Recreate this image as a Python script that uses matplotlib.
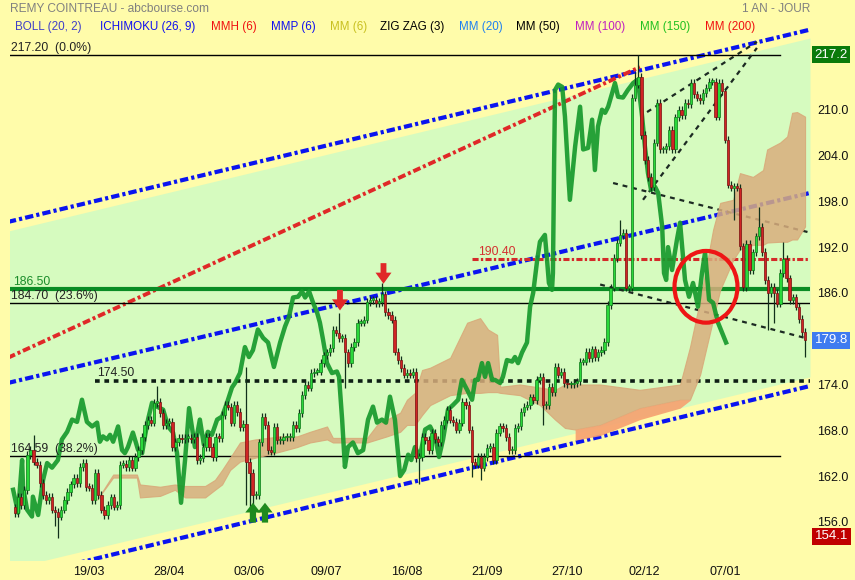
import numpy as np
import matplotlib
matplotlib.use("Agg")
import matplotlib.pyplot as plt
from matplotlib.patches import Ellipse

plt.rcParams['font.family'] = ['Liberation Sans', 'DejaVu Sans']

# daily closes, one per session (index 0 = first session of the year shown)
first_open = 157.9
closes = [
    157.2, 159.3, 158.2, 160.2, 164.8, 165.4, 163.9, 163.5, 161.1, 159.5,
    158.9, 159.3, 157.6, 157.3, 156.7, 157.6, 158.9, 159.9, 160.9, 161.8,
    161.1, 163.2, 163.7, 160.6, 160.5, 158.9, 162.4, 159.5, 157.6, 156.9,
    158.2, 159.2, 158.0, 158.2, 163.5, 163.6, 163.2, 164.1, 163.1, 164.5,
    165.4, 167.1, 168.7, 169.4, 169.0, 171.6, 171.7, 170.3, 168.7, 169.0,
    169.1, 165.8, 166.5, 167.0, 166.8, 167.0, 167.0, 166.8, 167.1, 164.1,
    164.4, 165.8, 167.1, 165.8, 164.5, 167.1, 167.0, 170.0, 171.3, 171.1,
    169.0, 171.3, 170.4, 168.4, 168.8, 163.9, 162.4, 159.5, 159.5, 166.4,
    169.8, 168.7, 165.4, 165.2, 168.4, 166.7, 166.7, 167.1, 167.1, 167.1,
    168.7, 168.3, 170.3, 172.6, 173.9, 173.6, 175.5, 175.7, 175.7, 176.8,
    177.8, 178.2, 178.8, 181.2, 180.8, 180.1, 180.1, 178.2, 176.8, 178.9,
    179.6, 182.1, 182.1, 182.5, 184.8, 185.1, 185.1, 184.7, 184.8, 185.8,
    183.5, 183.1, 182.5, 178.3, 177.2, 176.2, 175.3, 175.5, 175.3, 175.7,
    164.4, 164.5, 167.1, 166.7, 165.4, 167.7, 166.8, 166.5, 168.7, 169.4,
    170.7, 169.4, 169.1, 168.1, 169.0, 171.7, 171.3, 168.1, 163.9, 163.5,
    164.5, 163.1, 164.5, 165.7, 165.8, 164.1, 167.7, 168.5, 168.3, 167.1,
    165.4, 165.4, 168.3, 168.5, 170.4, 171.1, 171.3, 172.3, 172.0, 174.6,
    175.0, 171.3, 171.3, 173.7, 173.0, 176.3, 175.3, 175.7, 174.2, 174.0,
    174.0, 174.2, 174.4, 177.0, 177.0, 178.3, 177.5, 178.6, 177.6, 178.2,
    178.5, 179.6, 184.4, 186.7, 190.6, 192.6, 193.6, 193.9, 186.7, 186.7,
    211.6, 213.3, 214.3, 206.7, 203.4, 201.2, 199.9, 205.7, 210.9, 204.8,
    204.8, 205.2, 207.4, 204.8, 209.0, 210.0, 209.3, 210.9, 210.7, 213.5,
    212.0, 211.6, 211.3, 212.2, 212.9, 213.7, 213.7, 209.1, 213.5, 212.4,
    206.1, 200.2, 199.8, 199.9, 199.8, 192.1, 186.8, 192.4, 189.0, 191.3,
    193.4, 194.7, 191.4, 187.7, 186.0, 186.8, 186.0, 184.6, 188.6, 190.5,
    187.9, 185.1, 185.4, 184.2, 182.6, 180.9, 179.8,
]
# long shadows
wick_low = {13: 155.5, 14: 153.9, 75: 158.2, 76: 157.5, 77: 157.0, 107: 173.6,
            131: 160.9, 148: 161.9, 151: 161.5, 171: 168.7, 233: 195.6,
            244: 181.2, 246: 182.0, 256: 177.6}
wick_high = {6: 167.4, 46: 173.8, 75: 176.3, 105: 183.4, 119: 187.3,
             196: 195.6, 201: 215.0, 202: 217.2, 241: 197.3, 249: 192.7}

# thick green indicator line (session index, price)
osc_idx = [-0.6, 1.0, 2.3, 2.6, 3.9, 5.5, 5.8, 7.5, 9.1, 10.4, 12.0, 13.9, 15.2, 16.9,
           18.5, 20.1, 21.7, 23.3, 25.0, 26.6, 27.5, 28.5, 29.8, 30.8, 31.8, 33.4,
           34.7, 35.6, 36.6, 38.2, 39.9, 41.2, 42.1, 43.1, 44.4, 46.0, 48.0, 49.6,
           51.2, 52.5, 53.8, 55.1, 56.4, 58.3, 59.9, 61.2, 62.5, 63.8, 65.5, 67.1,
           68.7, 70.3, 71.3, 72.9, 74.5, 75.8, 77.1, 78.7, 80.4, 82.0, 83.9, 85.9,
           87.5, 88.8, 90.1, 91.7, 93.0, 94.0, 95.3, 96.6, 97.9, 98.8, 99.8, 101.1,
           102.7, 104.3, 105.0, 106.0, 106.9, 107.9, 109.5, 111.1, 112.8, 114.4,
           116.0, 117.3, 118.9, 120.2, 121.5, 123.1, 124.8, 126.1, 127.4, 128.4,
           129.6, 131.2, 132.9, 134.5, 136.1, 137.4, 138.7, 140.3, 141.9, 143.6,
           144.8, 146.5, 148.1, 149.1, 150.0, 151.3, 152.3, 153.3, 154.6, 155.5,
           157.2, 158.1, 159.4, 161.1, 162.0, 163.0, 164.3, 165.9, 166.9, 167.9,
           169.2, 170.1, 171.7, 172.4, 173.0, 174.0, 174.3, 174.7, 175.0, 176.0,
           177.3, 178.2, 179.2, 179.8, 181.5, 183.1, 184.1, 185.7, 187.0, 187.9,
           188.9, 190.2, 191.2, 192.2, 193.5, 194.4, 195.4, 197.0, 198.6, 200.3,
           201.6, 202.2, 203.2, 204.1, 205.1, 206.1, 207.4, 208.4, 209.7, 210.3,
           211.0, 211.6, 212.9, 214.5, 215.5, 217.1, 218.4, 219.7, 221.3, 222.6,
           223.6, 224.9, 226.2, 227.8, 230.4]
osc_val = [160.2, 157.2, 164.1, 160.6, 157.6, 156.7, 159.3, 156.9, 161.5, 163.7, 163.1,
           164.1, 166.8, 167.8, 169.4, 169.1, 172.0, 169.1, 168.5, 169.0, 166.5, 167.2,
           166.8, 167.4, 166.5, 168.5, 165.4, 165.0, 165.8, 167.7, 165.4, 165.0, 167.2,
           169.4, 171.6, 171.1, 170.7, 168.5, 167.7, 165.0, 158.5, 164.1, 170.9, 165.8,
           169.4, 166.1, 167.8, 167.4, 169.4, 169.8, 171.6, 173.6, 174.2, 175.5, 178.9,
           177.6, 178.5, 181.2, 180.1, 179.5, 176.3, 179.5, 181.6, 182.9, 185.4, 185.5,
           186.2, 185.4, 186.2, 184.7, 183.4, 182.1, 179.9, 176.8, 175.5, 175.7, 175.0,
           169.4, 163.2, 165.8, 166.4, 165.0, 165.4, 169.4, 171.1, 169.0, 169.4, 169.0,
           172.4, 169.4, 162.0, 162.8, 164.8, 164.1, 165.8, 164.5, 168.1, 168.5, 167.2,
           164.5, 166.8, 170.7, 171.3, 172.0, 174.6, 173.3, 172.0, 174.6, 174.6, 176.8,
           175.0, 176.8, 174.6, 174.6, 174.2, 175.0, 177.2, 177.0, 177.6, 176.8, 178.2,
           179.5, 184.2, 186.0, 190.3, 192.7, 193.6, 190.3, 187.3, 186.4, 188.6, 203.5,
           212.6, 213.3, 213.0, 209.1, 202.1, 198.2, 205.2, 210.4, 204.8, 205.0, 208.7,
           202.1, 207.8, 210.0, 209.6, 210.4, 212.2, 213.5, 211.7, 211.6, 212.6, 213.5,
           213.9, 212.6, 209.1, 205.2, 201.7, 199.5, 199.9, 199.1, 194.7, 188.6, 187.7,
           192.0, 189.0, 193.0, 195.2, 187.7, 185.5, 187.3, 184.2, 188.6, 191.3, 185.1,
           184.7, 182.1, 179.5]

# ichimoku cloud (session index, upper edge, lower edge)
cloud_idx = [26.6, 31.8, 39.5, 40.5, 47.0, 51.8, 55.1, 61.6, 64.8, 67.1, 69.7, 72.9,
             77.8, 85.9, 91.4, 95.6, 101.1, 103.0, 114.1, 117.3, 120.5, 124.8, 127.0,
             129.6, 131.9, 134.5, 141.0, 146.5, 150.7, 153.3, 156.2, 157.2, 163.6,
             170.1, 175.0, 178.2, 181.5, 189.6, 202.5, 215.5, 218.7, 222.0, 226.2,
             228.5, 232.7, 234.9, 239.1, 242.4, 243.7, 247.9, 250.2, 251.8, 253.4, 256.0]
cloud_top = [158.9, 162.2, 162.2, 160.9, 160.6, 160.9, 160.7, 160.7, 161.5, 162.8, 164.4,
             166.4, 166.8, 167.2, 167.2, 167.8, 168.5, 167.0, 167.0, 168.7, 169.4, 170.3,
             172.0, 172.9, 175.9, 176.2, 177.5, 182.1, 182.7, 181.2, 180.5, 173.7, 174.0,
             173.6, 173.3, 174.0, 174.0, 174.0, 173.3, 174.0, 178.9, 185.1, 194.3, 197.8,
             198.2, 201.7, 201.2, 202.1, 204.8, 205.7, 206.5, 209.6, 209.7, 209.1]
cloud_bot = [158.9, 161.8, 161.8, 159.2, 159.4, 160.2, 159.2, 159.2, 160.2, 160.9, 162.8,
             163.9, 164.4, 165.2, 165.8, 166.4, 166.8, 166.4, 166.4, 166.8, 167.2, 167.8,
             168.7, 168.7, 170.0, 171.3, 172.6, 172.9, 172.9, 173.0, 173.0, 172.9, 172.6,
             171.3, 169.4, 168.3, 168.1, 168.7, 170.9, 172.0, 172.0, 175.3, 182.5, 186.4,
             190.3, 191.7, 192.3, 192.3, 192.6, 192.7, 192.7, 193.0, 193.0, 194.7]
warm_idx = [181.5, 189.6, 202.5, 215.5, 218.7]
warm_top = [168.1, 168.7, 170.9, 172.0, 172.0]
warm_bot = [166.7, 167.3, 169.4, 170.9, 171.9]

# drawn objects (session index, price)
chan_up = ([-2.3, 257.6], [195.3, 220.5])
chan_mid = ([-2.3, 257.6], [174.2, 199.1])
chan_low = ([-2.3, 257.6], [148.4, 173.8])
band_top = ([-2.3, 257.6], [194.1, 219.4])
band_bot = ([-2.3, 257.6], [149.8, 175.0])
red_trend = ([-2.3, 202.5], [177.5, 215.6])
zz_lines = [([204.8, 240.4], [209.7, 218.9]),
            ([203.5, 240.4], [198.2, 218.1]),
            ([193.8, 257.6], [200.4, 193.9]),
            ([189.6, 256.0], [187.1, 180.1])]
down_arrows = [(105.3, 183.7, 186.4), (119.4, 187.2, 189.9)]
up_arrows = [(77.1, 158.5, 155.9), (81.0, 158.5, 155.9)]
circle = (223.9, 186.8, 20.4, 9.4)

date_idx = [24, 50, 76, 101, 127, 153, 179, 204, 230]
date_lbl = ["19/03", "28/04", "03/06", "09/07", "16/08", "21/09", "27/10", "02/12", "07/01"]
price_ticks = [156, 162, 168, 174, 186, 192, 198, 204, 210]

YELLOW = '#FFFCAA'
fig = plt.figure(figsize=(8.55, 5.8), dpi=100, facecolor=YELLOW)
ax = fig.add_axes([10 / 855, 20 / 580, 800 / 855, 538 / 580])
ax.set_facecolor('none')
ax.set_xlim(-1.62, 257.6)
ax.set_ylim(151.0, 221.5)
for s in ax.spines.values():
    s.set_visible(False)

# light green channel
gx = np.linspace(-2.3, 257.6, 50)
ax.fill_between(gx, np.interp(gx, *band_bot), np.interp(gx, *band_top),
                color='#D6FBBF', lw=0, zorder=0)

dashdot = (0, (2.0, 0.75, 0.75, 0.75))
for ln in (chan_up, chan_mid, chan_low):
    ax.plot(*ln, color='#0A14F0', lw=3, ls=dashdot, zorder=2)
ax.plot(*red_trend, color='#E02828', lw=2.8, ls=dashdot, zorder=2)

# horizontal levels
ax.plot([-2, 248], [217.2, 217.2], color='black', lw=1, zorder=2)
ax.plot([-2, 258], [184.7, 184.7], color='black', lw=1, zorder=2)
ax.plot([-2, 248], [164.59, 164.59], color='black', lw=1, zorder=2)
ax.plot([25.9, 258], [174.5, 174.5], color='#0E1E14', lw=2.6, ls=(0, (1.3, 1.3)), zorder=2)
ax.plot([148.1, 258], [190.4, 190.4], color='#D42A2A', lw=2.2, ls=dashdot, zorder=2)
ax.plot([-2, 258], [186.5, 186.5], color='#0A8C24', lw=3, zorder=2)

tkw = dict(fontsize=8.8, va='bottom', ha='left', zorder=6)
ax.text(-1.3, 217.35, "217.20  (0.0%)", color='#222222', **tkw)
ax.text(-0.6, 186.7, "186.50", color='#1A8C2A', **tkw)
ax.text(-1.3, 184.85, "184.70  (23.6%)", color='#222222', **tkw)
ax.text(26.5, 174.75, "174.50", color='#222222', **tkw)
ax.text(-1.3, 164.75, "164.59  (38.2%)", color='#222222', **tkw)
ax.text(150.0, 190.6, "190.40", color='#D43030', **tkw)

for xs, ys in zz_lines:
    ax.plot(xs, ys, color='#1C2A22', lw=1.6, ls=(0, (2.2, 2.2)), zorder=2)

# ichimoku cloud
ax.fill_between(cloud_idx, cloud_bot, cloud_top, color='#D9AE7E', alpha=0.85, lw=0.8,
                edgecolor='#D8A878', zorder=3)
ax.fill_between(warm_idx, warm_bot, warm_top, color='#F7A070', alpha=0.9, lw=0, zorder=3)

# green indicator line
ax.plot(osc_idx, osc_val, color='#179A2C', lw=3.2, alpha=0.92,
        solid_joinstyle='round', zorder=4)

# candles
c = np.array(closes)
o = np.r_[first_open, c[:-1]]
x = np.arange(len(c))
lo = np.minimum(o, c) - 0.5
hi = np.maximum(o, c) + 0.5
for k, v in wick_low.items():
    lo[k] = v
for k, v in wick_high.items():
    hi[k] = v
up = c >= o
ax.vlines(x, lo, hi, color='#10301A', lw=0.9, zorder=5)
body_h = np.maximum(np.abs(c - o), 0.2)
ax.bar(x[up], body_h[up], bottom=np.minimum(o, c)[up], width=0.75,
       color='#2AD83A', edgecolor='#0E7A1A', lw=0.5, zorder=6)
ax.bar(x[~up], body_h[~up], bottom=np.minimum(o, c)[~up], width=0.75,
       color='#D02424', edgecolor='#7A1010', lw=0.5, zorder=6)

# signal arrows and circle
for xi, tip, tail in down_arrows:
    ax.annotate("", xy=(xi, tip), xytext=(xi, tail), zorder=7,
                arrowprops=dict(arrowstyle="simple,head_length=0.8,head_width=1.15,tail_width=0.42",
                                color='#E02828', lw=0, shrinkA=0, shrinkB=0, mutation_scale=10))
for xi, tip, tail in up_arrows:
    ax.annotate("", xy=(xi, tip), xytext=(xi, tail), zorder=7,
                arrowprops=dict(arrowstyle="simple,head_length=0.7,head_width=1.1,tail_width=0.45",
                                color='#1E8A1E', lw=0, shrinkA=0, shrinkB=0, mutation_scale=10))
cx, cy, cw, chh = circle
ax.add_patch(Ellipse((cx, cy), cw, chh, fill=False, edgecolor='#EE1515', lw=3, zorder=8))

# axes ticks
ax.yaxis.tick_right()
ax.set_yticks(price_ticks)
ax.set_yticklabels([f"{p:.1f}" for p in price_ticks])
ax.set_xticks(date_idx)
ax.set_xticklabels(date_lbl)
ax.tick_params(axis='y', length=0, pad=5, labelsize=9, labelcolor='#111111')
ax.tick_params(axis='x', length=0, pad=4, labelsize=9, labelcolor='#111111')
for t in ax.get_xticklabels():
    t.set_family(['Liberation Sans Narrow', 'Liberation Sans'])

# last / high / low price boxes
bt = ax.get_yaxis_transform()
for val, bg in ((217.2, '#0A7A0A'), (179.8, '#3F7BF0'), (154.1, '#C00000')):
    ax.text(1.006, val, f"{val:.1f}", transform=bt, color='white', fontsize=9.5,
            va='center', ha='left', clip_on=False, zorder=10,
            bbox=dict(boxstyle='square,pad=0.18', fc=bg, ec='none'))

# header
fig.text(10 / 855, 1 - 9 / 580, "REMY COINTREAU - abcbourse.com", color='#808080',
         fontsize=8.6, va='center', ha='left')
fig.text(810 / 855, 1 - 9 / 580, "1 AN - JOUR", color='#808080',
         fontsize=8.6, va='center', ha='right')
legend_items = [("BOLL (20, 2)", '#4040C8', 15), ("ICHIMOKU (26, 9)", '#1010F0', 100),
                ("MMH (6)", '#F01010', 211), ("MMP (6)", '#1010F0', 271),
                ("MM (6)", '#C8C020', 330), ("ZIG ZAG (3)", '#000000', 380),
                ("MM (20)", '#2080F0', 459), ("MM (50)", '#000000', 516),
                ("MM (100)", '#C020C0', 575), ("MM (150)", '#20C020', 640),
                ("MM (200)", '#F01010', 705)]
for label, col, px in legend_items:
    fig.text(px / 855, 1 - 27 / 580, label, color=col, fontsize=8.4, va='center', ha='left')

fig.savefig("out.png", dpi=100, facecolor=YELLOW)
